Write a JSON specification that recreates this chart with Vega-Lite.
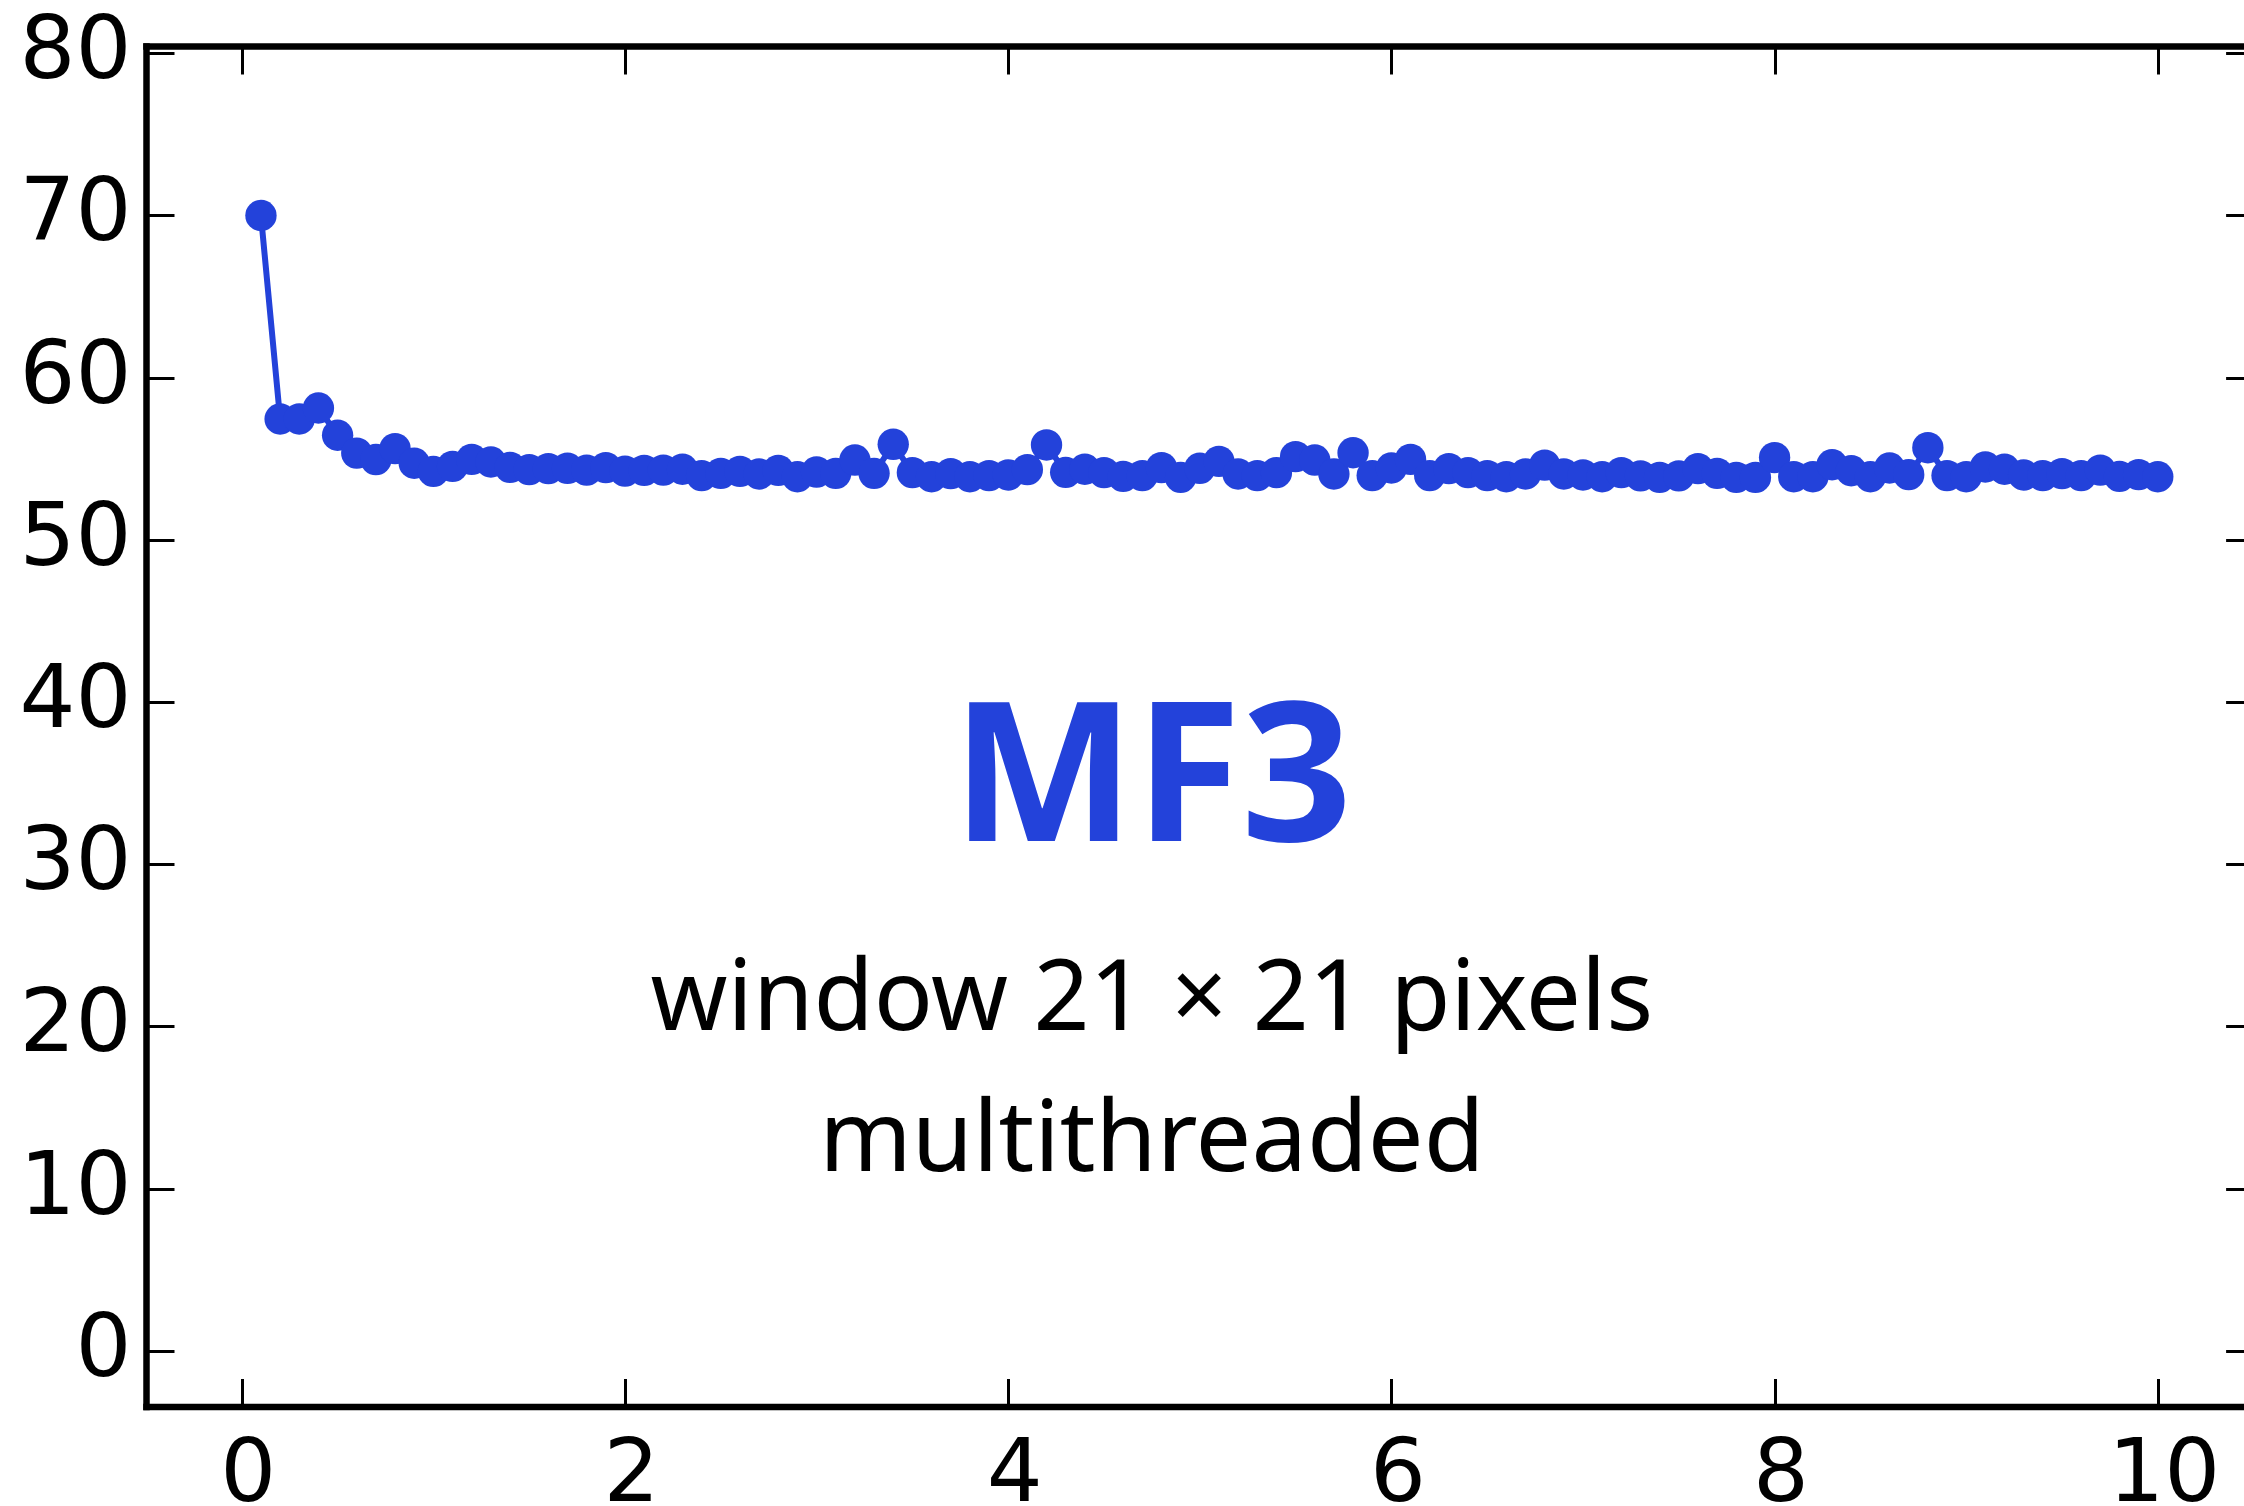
{
  "$schema": "https://vega.github.io/schema/vega-lite/v6.json",
  "autosize": {"type": "none"},
  "width": 2098,
  "height": 1360.5,
  "padding": {"left": 146, "top": 46, "right": 0, "bottom": 99.5},
  "background": "white",
  "config": {
    "view": {"stroke": null},
    "axis": {"grid": false, "title": null}
  },
  "data": {
    "values": [
      {"t": 0.1, "v": 70.0}, {"t": 0.2, "v": 57.45}, {"t": 0.3, "v": 57.45}, {"t": 0.4, "v": 58.13},
      {"t": 0.5, "v": 56.45}, {"t": 0.6, "v": 55.35}, {"t": 0.7, "v": 54.95}, {"t": 0.8, "v": 55.62},
      {"t": 0.9, "v": 54.72}, {"t": 1.0, "v": 54.22}, {"t": 1.1, "v": 54.53}, {"t": 1.2, "v": 54.96},
      {"t": 1.3, "v": 54.80}, {"t": 1.4, "v": 54.47}, {"t": 1.5, "v": 54.33}, {"t": 1.6, "v": 54.39},
      {"t": 1.7, "v": 54.41}, {"t": 1.8, "v": 54.30}, {"t": 1.9, "v": 54.45}, {"t": 2.0, "v": 54.24},
      {"t": 2.1, "v": 54.28}, {"t": 2.2, "v": 54.30}, {"t": 2.3, "v": 54.35}, {"t": 2.4, "v": 53.96},
      {"t": 2.5, "v": 54.10}, {"t": 2.6, "v": 54.22}, {"t": 2.7, "v": 54.06}, {"t": 2.8, "v": 54.28},
      {"t": 2.9, "v": 53.89}, {"t": 3.0, "v": 54.18}, {"t": 3.1, "v": 54.10}, {"t": 3.2, "v": 54.92},
      {"t": 3.3, "v": 54.10}, {"t": 3.4, "v": 55.89}, {"t": 3.5, "v": 54.14}, {"t": 3.6, "v": 53.89},
      {"t": 3.7, "v": 54.08}, {"t": 3.8, "v": 53.89}, {"t": 3.9, "v": 53.96}, {"t": 4.0, "v": 54.00},
      {"t": 4.1, "v": 54.33}, {"t": 4.2, "v": 55.85}, {"t": 4.3, "v": 54.16}, {"t": 4.4, "v": 54.35},
      {"t": 4.5, "v": 54.14}, {"t": 4.6, "v": 53.91}, {"t": 4.7, "v": 53.96}, {"t": 4.8, "v": 54.45},
      {"t": 4.9, "v": 53.85}, {"t": 5.0, "v": 54.41}, {"t": 5.1, "v": 54.84}, {"t": 5.2, "v": 54.06},
      {"t": 5.3, "v": 53.96}, {"t": 5.4, "v": 54.14}, {"t": 5.5, "v": 55.13}, {"t": 5.6, "v": 54.92},
      {"t": 5.7, "v": 54.06}, {"t": 5.8, "v": 55.37}, {"t": 5.9, "v": 53.96}, {"t": 6.0, "v": 54.43},
      {"t": 6.1, "v": 54.96}, {"t": 6.2, "v": 53.96}, {"t": 6.3, "v": 54.39}, {"t": 6.4, "v": 54.14},
      {"t": 6.5, "v": 53.96}, {"t": 6.6, "v": 53.89}, {"t": 6.7, "v": 54.06}, {"t": 6.8, "v": 54.61},
      {"t": 6.9, "v": 54.06}, {"t": 7.0, "v": 54.00}, {"t": 7.1, "v": 53.89}, {"t": 7.2, "v": 54.14},
      {"t": 7.3, "v": 53.94}, {"t": 7.4, "v": 53.85}, {"t": 7.5, "v": 53.94}, {"t": 7.6, "v": 54.39},
      {"t": 7.7, "v": 54.10}, {"t": 7.8, "v": 53.85}, {"t": 7.9, "v": 53.85}, {"t": 8.0, "v": 55.07},
      {"t": 8.1, "v": 53.89}, {"t": 8.2, "v": 53.89}, {"t": 8.3, "v": 54.63}, {"t": 8.4, "v": 54.26},
      {"t": 8.5, "v": 53.89}, {"t": 8.6, "v": 54.43}, {"t": 8.7, "v": 54.02}, {"t": 8.8, "v": 55.68},
      {"t": 8.9, "v": 53.96}, {"t": 9.0, "v": 53.89}, {"t": 9.1, "v": 54.49}, {"t": 9.2, "v": 54.35},
      {"t": 9.3, "v": 54.00}, {"t": 9.4, "v": 53.96}, {"t": 9.5, "v": 54.08}, {"t": 9.6, "v": 53.96},
      {"t": 9.7, "v": 54.30}, {"t": 9.8, "v": 53.91}, {"t": 9.9, "v": 54.02}, {"t": 10.0, "v": 53.89}
    ]
  },
  "layer": [
    {
      "mark": {"type": "line", "color": "#2342DA", "strokeWidth": 6},
      "encoding": {
        "x": {
          "field": "t", "type": "quantitative",
          "scale": {"domain": [-0.5, 10.45], "nice": false, "zero": false},
          "axis": {
            "orient": "bottom", "values": [0, 2, 4, 6, 8, 10],
            "tickSize": -28, "tickWidth": 3, "tickColor": "black",
            "domainWidth": 6.5, "domainColor": "black", "domainCap": "square",
            "labelFont": "DejaVu Sans", "labelFontSize": 88, "labelColor": "black",
            "labelPadding": 52, "labelOffset": 6, "labelFlush": false, "labelOverlap": false
          }
        },
        "y": {
          "field": "v", "type": "quantitative",
          "scale": {"domain": [-3.44, 80.45], "nice": false, "zero": false},
          "axis": {
            "orient": "left", "values": [0, 10, 20, 30, 40, 50, 60, 70, 80],
            "tickSize": -28, "tickWidth": 3, "tickColor": "black",
            "domainWidth": 6.5, "domainColor": "black", "domainCap": "square",
            "labelFont": "DejaVu Sans", "labelFontSize": 88, "labelColor": "black",
            "labelPadding": 43, "labelOffset": -1.5, "labelFlush": false, "labelOverlap": false
          }
        }
      }
    },
    {
      "mark": {"type": "circle", "color": "#2342DA", "size": 984, "opacity": 1},
      "encoding": {
        "x": {
          "field": "t", "type": "quantitative",
          "axis": {
            "orient": "top", "values": [0, 2, 4, 6, 8, 10],
            "tickSize": -28, "tickWidth": 3, "tickColor": "black",
            "domainWidth": 6.5, "domainColor": "black", "domainCap": "square",
            "labels": false
          }
        },
        "y": {
          "field": "v", "type": "quantitative",
          "axis": {
            "orient": "right", "values": [0, 10, 20, 30, 40, 50, 60, 70, 80],
            "tickSize": -18.4, "tickWidth": 3, "tickColor": "black",
            "domain": false, "labels": false
          }
        }
      }
    },
    {
      "data": {"values": [{}]},
      "mark": {
        "type": "text", "text": "MF3", "font": "Noto Sans", "fontWeight": "bold",
        "fontSize": 194, "color": "#2342DA", "align": "center", "baseline": "alphabetic"
      },
      "encoding": {
        "x": {"datum": 4.75, "type": "quantitative", "axis": null},
        "y": {"datum": 31.43, "type": "quantitative", "axis": null}
      }
    },
    {
      "data": {"values": [{}]},
      "mark": {
        "type": "text", "text": "window 21 × 21 pixels", "font": "Noto Sans",
        "fontSize": 98, "color": "black", "align": "center", "baseline": "alphabetic"
      },
      "encoding": {
        "x": {"datum": 4.75, "type": "quantitative", "axis": null},
        "y": {"datum": 19.78, "type": "quantitative", "axis": null}
      }
    },
    {
      "data": {"values": [{}]},
      "mark": {
        "type": "text", "text": "multithreaded", "font": "Noto Sans",
        "fontSize": 99, "color": "black", "align": "center", "baseline": "alphabetic"
      },
      "encoding": {
        "x": {"datum": 4.75, "type": "quantitative", "axis": null},
        "y": {"datum": 11.08, "type": "quantitative", "axis": null}
      }
    }
  ],
  "resolve": {"axis": {"x": "independent", "y": "independent"}}
}
